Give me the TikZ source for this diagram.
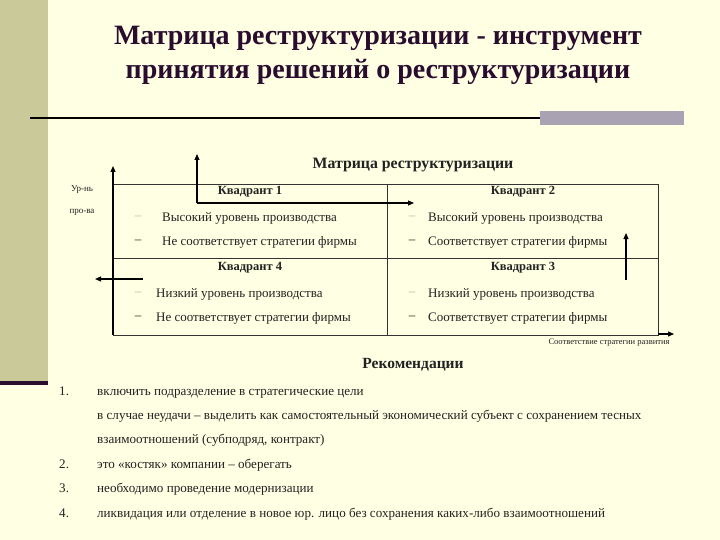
\documentclass[tikz,border=0pt]{standalone}
\usepackage{fontspec}
\setmainfont{Liberation Serif}
\usetikzlibrary{arrows.meta}
\definecolor{bg}{HTML}{FFFFE3}
\definecolor{stripe}{HTML}{C9C99A}
\definecolor{titlec}{HTML}{2A0C2E}
\definecolor{barc}{HTML}{A9A2B2}
\definecolor{txt}{HTML}{222222}
\definecolor{faint}{HTML}{B8B8A8}
\begin{document}
\begin{tikzpicture}[x=1pt,y=-1pt,
  grid/.style={draw=black!80,line width=0.9pt},
  arr/.style={draw=black,line width=1.1pt,-{Triangle[length=6pt,width=5pt]}},
  ttl/.style={font=\fontsize{28}{30}\selectfont\bfseries,text=titlec,inner sep=0pt},
  quad/.style={font=\fontsize{12.5}{14}\selectfont\bfseries,text=txt,inner sep=0pt},
  item/.style={font=\fontsize{13}{15}\selectfont,text=txt,anchor=west,inner sep=0pt},
  dashf/.style={font=\fontsize{13}{15}\selectfont,text=faint,inner sep=0pt},
  dashd/.style={font=\fontsize{13}{15}\selectfont,text=txt,inner sep=0pt},
  rec/.style={font=\fontsize{13.1}{15}\selectfont,text=txt,anchor=base west,inner sep=0pt},
  small/.style={font=\fontsize{8.5}{10}\selectfont,text=txt,inner sep=0pt}]
\fill[bg] (0,0) rectangle (720,540);
\useasboundingbox (0,0) rectangle (720,540);
\fill[stripe] (0,0) rectangle (48,381);
\fill[titlec] (0,381) rectangle (48,385);
% title
\node[ttl] (t1) at (378,38) {Матрица реструктуризации - инструмент};
\node[ttl] (t2) at (378,72) {принятия решений о реструктуризации};
\draw[line width=2.5pt,black] (30,118) -- (540,118);
\fill[barc] (540,111) rectangle (684,125);
% matrix
\node[font=\fontsize{15.8}{17}\selectfont\bfseries,text=txt,inner sep=0pt] (mt) at (413,165) {Матрица реструктуризации};
\draw[grid] (113,184) -- (658,184) -- (658,335) -- (113,335);
\draw[grid] (113,258.5) -- (658,258.5);
\draw[grid] (387,184) -- (387,335);
\coordinate (ya) at (113,335);
\coordinate (yb) at (113,166);
\draw[arr] (ya) -- (yb);
\node[small,font=\fontsize{9}{10}\selectfont] (yl1) at (82,190) {Ур-нь};
\node[small,font=\fontsize{9}{10}\selectfont] (yl2) at (82,212) {про-ва};
% quadrant titles
\node[quad] (q1) at (250,192) {Квадрант 1};
\node[quad] (q2) at (523,192) {Квадрант 2};
\node[quad] (q4) at (250,268) {Квадрант 4};
\node[quad] (q3) at (523,268) {Квадрант 3};
% items
\node[dashf] (d11) at (138,218) {–};
\node[item] (i11) at (162,218) {Высокий уровень производства};
\node[dashd] (d12) at (138,242) {–};
\node[item] (i12) at (162,242) {Не соответствует стратегии фирмы};
\node[dashf] (d21) at (412,218) {–};
\node[item] (i21) at (428,218) {Высокий уровень производства};
\node[dashd] (d22) at (412,242) {–};
\node[item] (i22) at (428,242) {Соответствует стратегии фирмы};
\node[dashf] (d41) at (138,294) {–};
\node[item] (i41) at (156,294) {Низкий уровень производства};
\node[dashd] (d42) at (138,318) {–};
\node[item] (i42) at (156,318) {Не соответствует стратегии фирмы};
\node[dashf] (d31) at (412,294) {–};
\node[item] (i31) at (428,294) {Низкий уровень производства};
\node[dashd] (d32) at (412,318) {–};
\node[item] (i32) at (428,318) {Соответствует стратегии фирмы};
% arrows
\coordinate (a1s) at (197,203);
\coordinate (a1t) at (197,154);
\coordinate (a1e) at (414,203);
\draw[arr] (a1s) -- (a1t);
\draw[arr] (a1s) -- (a1e);
\coordinate (a2s) at (626,280);
\coordinate (a2t) at (626,233);
\draw[arr] (a2s) -- (a2t);
\coordinate (a3s) at (143,279);
\coordinate (a3t) at (95,279);
\draw[arr] (a3s) -- (a3t);
\coordinate (a4s) at (658,334);
\coordinate (a4t) at (674,334);
\draw[arr] (a4s) -- (a4t);
\node[small] (xl) at (609,343) {Соответствие стратегии развития};
% recommendations
\node[font=\fontsize{15.5}{17}\selectfont\bfseries,text=txt,inner sep=0pt] (rt) at (413,365) {Рекомендации};
\node[rec] (n1) at (59,395) {1.};
\node[rec] (r1) at (97,395) {включить подразделение в стратегические цели};
\node[rec] (r1b) at (97,419) {в случае неудачи – выделить как самостоятельный экономический субъект с сохранением тесных};
\node[rec] (r1c) at (97,443) {взаимоотношений (субподряд, контракт)};
\node[rec] (n2) at (59,468) {2.};
\node[rec] (r2) at (97,468) {это «костяк» компании – оберегать};
\node[rec] (n3) at (59,492) {3.};
\node[rec] (r3) at (97,492) {необходимо проведение модернизации};
\node[rec] (n4) at (59,517) {4.};
\node[rec] (r4) at (97,517) {ликвидация или отделение в новое юр. лицо без сохранения каких-либо взаимоотношений};
\end{tikzpicture}
\end{document}
